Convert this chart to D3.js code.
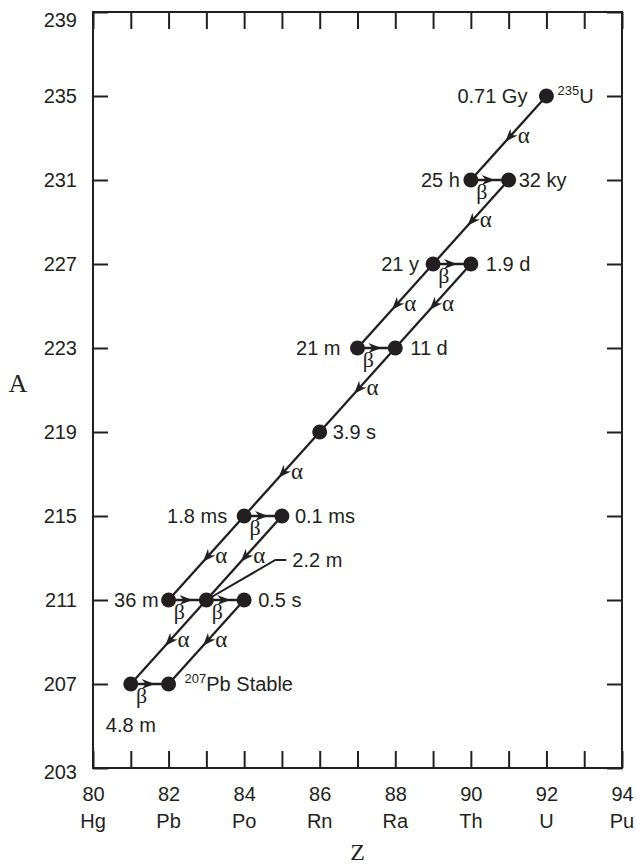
<!DOCTYPE html>
<html>
<head>
<meta charset="utf-8">
<script src="https://cdn.jsdelivr.net/npm/d3@7"></script>
<style>
  html, body { margin: 0; padding: 0; background: #fff; }
  svg { display: block; }
  text { font-family: "Liberation Sans", Arial, Helvetica, sans-serif; fill: #231f20; }
  .greek, .axis-title { font-family: "Liberation Serif", "Times New Roman", serif; }
</style>
</head>
<body>
<svg id="chart" width="636" height="865"></svg>
<script>
// Actinium series: 235U down to stable 207Pb on the Z-A plane.
const zTicks = [80, 81, 82, 83, 84, 85, 86, 87, 88, 89, 90, 91, 92, 93, 94];
const zLabelTicks = [80, 82, 84, 86, 88, 90, 92, 94];
const elementSymbols = ["Hg", "Pb", "Po", "Rn", "Ra", "Th", "U", "Pu"];
const aTicks = [203, 207, 211, 215, 219, 223, 227, 231, 235, 239];

// Nuclides of the chain (atomic number, mass number, half-life)
const nuclideZ = [92, 90, 91, 89, 90, 87, 88, 86, 84, 85, 82, 83, 84, 81, 82];
const nuclideA = [235, 231, 231, 227, 227, 223, 223, 219, 215, 215, 211, 211, 211, 207, 207];
const halfLives = ["0.71 Gy", "25 h", "32 ky", "21 y", "1.9 d", "21 m", "11 d", "3.9 s",
                   "1.8 ms", "0.1 ms", "36 m", "2.2 m", "0.5 s", "4.8 m", "Stable"];
// Isotope names written beside the first and last members
const isotopeMass = ["235", null, null, null, null, null, null, null, null, null, null, null, null, null, "207"];
const isotopeSymbol = ["U", null, null, null, null, null, null, null, null, null, null, null, null, null, "Pb"];

// Decays as [parent index, daughter index]
const alphaDecays = [[0, 1], [2, 3], [3, 5], [4, 6], [6, 7], [7, 8], [8, 10], [9, 11], [11, 13], [12, 14]];
const betaDecays = [[1, 2], [3, 4], [5, 6], [8, 9], [10, 11], [11, 12], [13, 14]];

const svg = d3.select("#chart");
const ink = "#231f20";

const x = d3.scaleLinear().domain([80, 94]).range([93, 622]);
const y = d3.scaleLinear().domain([203, 239]).range([768, 12]);

// Frame
svg.append("rect")
  .attr("x", x(80)).attr("y", y(239))
  .attr("width", x(94) - x(80)).attr("height", y(203) - y(239))
  .attr("fill", "none").attr("stroke", ink).attr("stroke-width", 2);

function styleAxis(g) {
  g.select(".domain").remove();
  g.selectAll(".tick line").attr("stroke", ink).attr("stroke-width", 2);
  g.selectAll(".tick text").attr("fill", ink).style("font-size", "20px")
    .style("font-family", "'Liberation Sans', Arial, sans-serif");
}

// Bottom axis: ticks at every Z, numbers at even Z
svg.append("g")
  .attr("transform", `translate(0,${y(203)})`)
  .call(d3.axisBottom(x).tickValues(zTicks).tickSize(-17).tickPadding(19)
    .tickFormat(d => zLabelTicks.includes(d) ? d : ""))
  .call(styleAxis);

// Top axis: inward ticks only
svg.append("g")
  .attr("transform", `translate(0,${y(239)})`)
  .call(d3.axisTop(x).tickValues(zTicks).tickSize(-17).tickFormat(""))
  .call(styleAxis);

// Left axis with mass numbers
const leftAxis = svg.append("g")
  .attr("transform", `translate(${x(80)},0)`)
  .call(d3.axisLeft(y).tickValues(aTicks).tickSize(-15).tickPadding(16))
  .call(styleAxis);
leftAxis.selectAll(".tick").filter(d => d === 239).select("text").attr("dy", "0.72em");
leftAxis.selectAll(".tick").filter(d => d === 203).select("text").attr("dy", "0.52em");

// Right axis: inward ticks only
svg.append("g")
  .attr("transform", `translate(${x(94)},0)`)
  .call(d3.axisRight(y).tickValues(aTicks).tickSize(-15).tickFormat(""))
  .call(styleAxis);

// Element symbols under the Z numbers
svg.append("g").selectAll("text")
  .data(zLabelTicks)
  .join("text")
  .attr("x", d => x(d)).attr("y", 828)
  .attr("text-anchor", "middle").style("font-size", "20px")
  .text((d, i) => elementSymbols[i]);

// Axis titles
svg.append("text").attr("class", "axis-title")
  .attr("x", 18).attr("y", 392).attr("text-anchor", "middle")
  .style("font-size", "26px").text("A");
svg.append("text").attr("class", "axis-title")
  .attr("x", (x(80) + x(94)) / 2).attr("y", 860).attr("text-anchor", "middle")
  .style("font-size", "24px").text("Z");

// Decay arrows
const px = i => x(nuclideZ[i]);
const py = i => y(nuclideA[i]);
const arrowHead = "M0,0 L-13,-5 L-9,0 L-13,5 Z";

const decayLayer = svg.append("g");

function drawDecay(pair, greek) {
  const [p, d] = pair;
  const x0 = px(p), y0 = py(p), x1 = px(d), y1 = py(d);
  decayLayer.append("line")
    .attr("x1", x0).attr("y1", y0).attr("x2", x1).attr("y2", y1)
    .attr("stroke", ink).attr("stroke-width", 2.3);
  const len = Math.hypot(x1 - x0, y1 - y0);
  const ux = (x1 - x0) / len, uy = (y1 - y0) / len;
  const mx = (x0 + x1) / 2, my = (y0 + y1) / 2;
  const tx = mx + ux * 5, ty = my + uy * 5;
  const ang = Math.atan2(uy, ux) * 180 / Math.PI;
  decayLayer.append("path")
    .attr("d", arrowHead)
    .attr("transform", `translate(${tx},${ty}) rotate(${ang})`)
    .attr("fill", ink);
  if (greek === "α") {
    decayLayer.append("text").attr("class", "greek")
      .attr("x", mx + 9).attr("y", my + 5)
      .style("font-size", "23px").text("α");
  } else {
    decayLayer.append("text").attr("class", "greek")
      .attr("x", mx - 8).attr("y", my + 19).attr("text-anchor", "middle")
      .style("font-size", "22px").text("β");
  }
}

alphaDecays.forEach(pair => drawDecay(pair, "α"));
betaDecays.forEach(pair => drawDecay(pair, "β"));

// Leader line for the half-life that sits away from its nuclide
const leaderIdx = 11;
decayLayer.append("polyline")
  .attr("points", [[px(leaderIdx), py(leaderIdx)], [px(leaderIdx) + 69, py(leaderIdx) - 40], [px(leaderIdx) + 80, py(leaderIdx) - 40]]
    .map(p => p.join(",")).join(" "))
  .attr("fill", "none").attr("stroke", ink).attr("stroke-width", 2);

// Nuclide dots
svg.append("g").selectAll("circle")
  .data(nuclideZ.map((z, i) => i))
  .join("circle")
  .attr("cx", i => px(i)).attr("cy", i => py(i)).attr("r", 7.5)
  .attr("fill", ink);

// Half-life label placement: [anchor, dx, baseline dy]
const placement = [
  ["end", -19, 7], ["end", -11, 7], ["start", 10, 7], ["end", -14, 7], ["start", 15, 7],
  ["end", -17, 7], ["start", 15, 7], ["start", 13, 7], ["end", -17, 7], ["start", 13, 7],
  ["end", -10, 7], ["start", 86, -33], ["start", 14, 7], ["middle", 0, 48], ["start", 16, 7]
];

const labels = svg.append("g");
halfLives.forEach((txt, i) => {
  const [anchor, dx, dy] = placement[i];
  const t = labels.append("text")
    .attr("x", px(i) + dx).attr("y", py(i) + dy)
    .attr("text-anchor", anchor).style("font-size", "20px");
  if (isotopeMass[i] && i === halfLives.length - 1) {
    t.append("tspan").attr("dy", -8).style("font-size", "13px").text(isotopeMass[i]);
    t.append("tspan").attr("dy", 8).text(isotopeSymbol[i] + " " + txt);
  } else {
    t.text(txt);
  }
});

// Isotope name beside the parent nuclide
const parentName = labels.append("text")
  .attr("x", px(0) + 11).attr("y", py(0) + 7)
  .style("font-size", "20px");
parentName.append("tspan").attr("dy", -8).style("font-size", "13px").text(isotopeMass[0]);
parentName.append("tspan").attr("dy", 8).text(isotopeSymbol[0]);
</script>
</body>
</html>
